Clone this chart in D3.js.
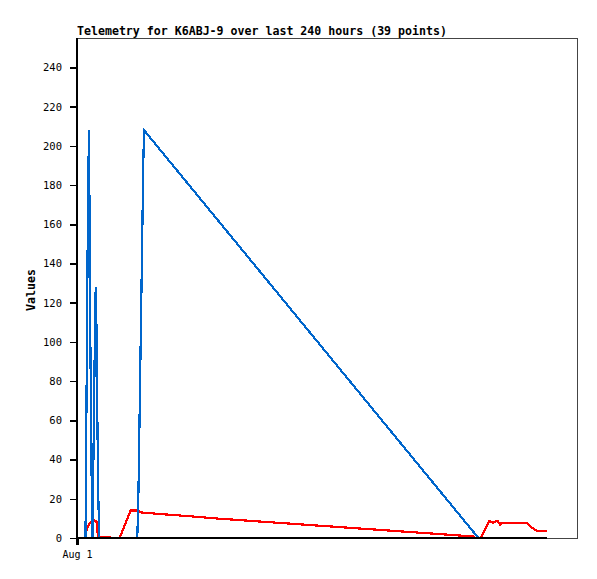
<!DOCTYPE html>
<html><head><meta charset="utf-8">
<script src="https://cdn.jsdelivr.net/npm/d3@7"></script>
<style>body{margin:0;background:#fff;}svg{display:block;}</style>
</head><body>
<script>
// Data (hours since Aug 1 00:00)
const titleText = "Telemetry for K6ABJ-9 over last 240 hours (39 points)";
const yTicks = [0,20,40,60,80,100,120,140,160,180,200,220,240];
const xTickHours = [0];
const xTickLabels = ["Aug 1"];

const blueHours = [4.07,4.31,4.79,5.27,5.75,6.37,6.95,7.43,7.66,8.14,8.62,8.96,9.34,9.72,10.2,10.68,28.88,29.36,29.84,30.32,30.8,31.28,31.76,32.1,192.3];
const blueValues = [0,35,104,173,208,104,35,0,22,64,107,128,107,64,21,0,0,18.5,52,87,121,156,191,208,0];

const redHours = [4.55,5.27,6.47,8.14,9.34,10.06,20.36,25.72,28.98,31.0,41.2,54.1,67.5,189.7,190.7,193.5,197.5,199.1,201.5,202.6,203.5,215.4,217.8,220.2,225.0];
const redValues = [4,6,8,9,8.5,0.5,0,14,14,13,12.1,11.1,9.9,0.8,0,0,8.8,7.8,8.8,6.8,7.8,7.8,5.4,3.7,3.7];

const blackHours = [0,225.1];
const blackValues = [0,0];

const W=597,H=579;
const svg=d3.select("body").append("svg").attr("width",W).attr("height",H);
const x=d3.scaleLinear().domain([0,240]).range([77,578]);
const y=d3.scaleLinear().domain([0,255]).range([538,38]);
const mono="'DejaVu Sans Mono', monospace";

// frame
svg.append("rect").attr("x",77.5).attr("y",38.5).attr("width",500).attr("height",499.5)
  .attr("fill","none").attr("stroke","#444").attr("stroke-width",1).attr("shape-rendering","crispEdges");

// title
svg.append("text").attr("x",77).attr("y",35).attr("font-family",mono).attr("font-weight","bold")
  .attr("font-size","11.6px").attr("fill","#000").text(titleText);

// y axis
const yAxis=d3.axisLeft(y).tickValues(yTicks).tickSize(7).tickPadding(8);
const ya=svg.append("g").attr("transform","translate(77,0)").call(yAxis);
ya.select(".domain").remove();
ya.selectAll("text").attr("font-family",mono).attr("font-size","10.5px").attr("fill","#000");
ya.selectAll("line").attr("stroke","#000").attr("stroke-width",1.5).attr("shape-rendering","crispEdges");
svg.append("line").attr("x1",77).attr("x2",77).attr("y1",38).attr("y2",545).attr("stroke","#000").attr("stroke-width",2).attr("shape-rendering","crispEdges");

// x axis tick
const xAxis=d3.axisBottom(x).tickValues(xTickHours).tickFormat((d,i)=>xTickLabels[i]).tickSize(7).tickPadding(6);
const xa=svg.append("g").attr("transform","translate(0,538)").call(xAxis);
xa.select(".domain").remove();
xa.selectAll("text").attr("font-family",mono).attr("font-size","10px").attr("fill","#000");
xa.selectAll("line").attr("stroke","#000").attr("stroke-width",2).attr("shape-rendering","crispEdges");

// y label
svg.append("text").attr("transform","translate(35,290) rotate(-90)").attr("text-anchor","middle")
  .attr("font-family",mono).attr("font-weight","bold").attr("font-size","11.6px").text("Values");

const line=d3.line().x(d=>x(d[0])).y(d=>y(d[1]));
function draw(hs,vs,color){
  svg.append("path").datum(hs.map((h,i)=>[h,vs[i]])).attr("d",line)
    .attr("fill","none").attr("stroke",color).attr("stroke-width",2.2)
    .attr("stroke-linejoin","miter").attr("shape-rendering","crispEdges");
}
draw(redHours,redValues,"#ff0000");
draw(blueHours,blueValues,"#0066cc");
draw(blackHours,blackValues,"#000000");
</script>
</body></html>
